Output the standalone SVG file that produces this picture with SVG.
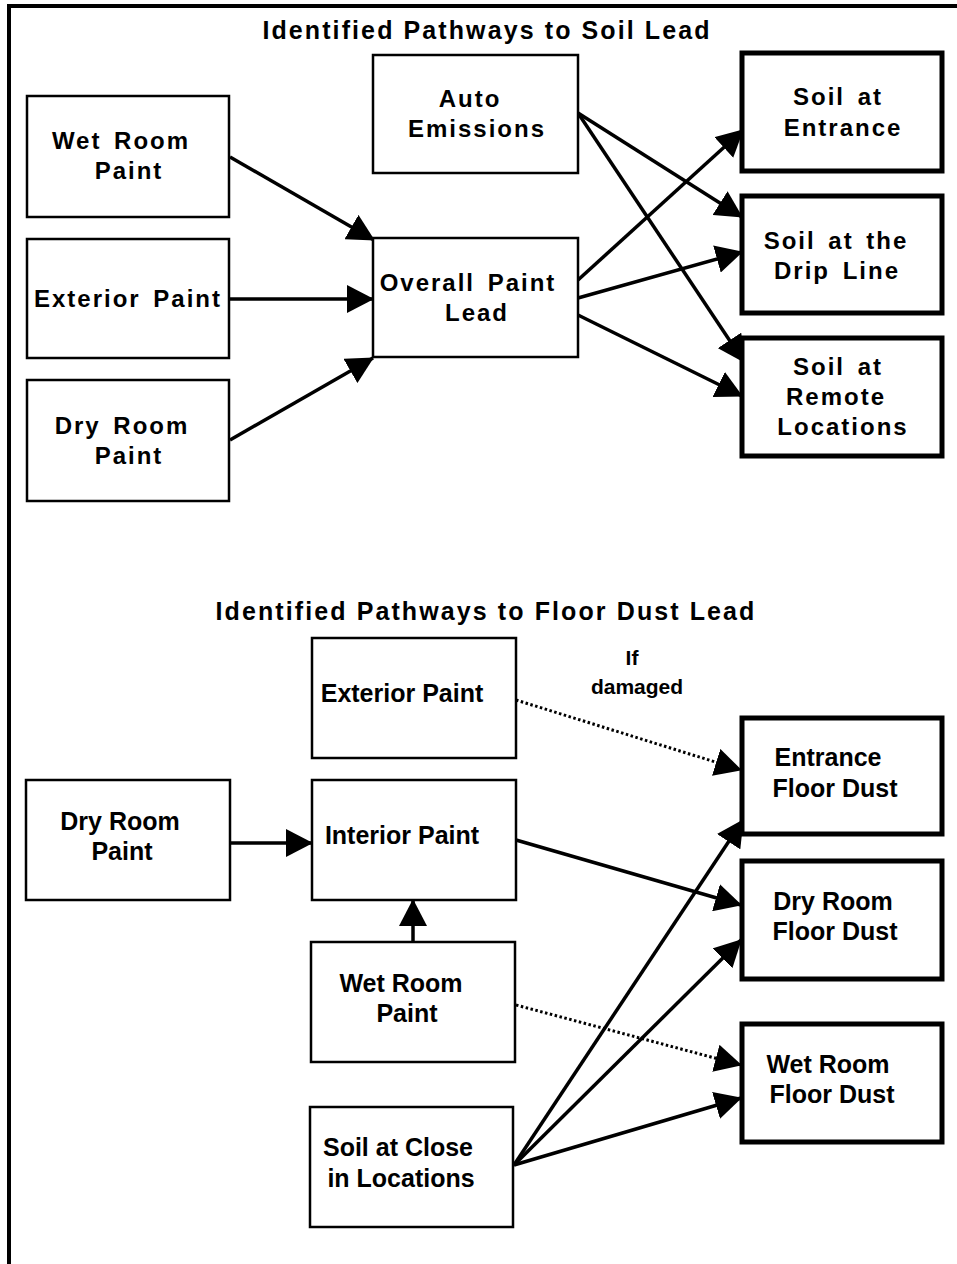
<svg xmlns="http://www.w3.org/2000/svg" width="957" height="1264" viewBox="0 0 957 1264">
<style>
.bg{fill:#fff}
.box{fill:#fff;stroke:#000;stroke-width:2.5}
.tbox{fill:#fff;stroke:#000;stroke-width:5}
.frame{stroke:#000;stroke-width:4;fill:none}
.ttl{font-family:"Liberation Sans",Arial,sans-serif;font-weight:bold;font-size:25px;letter-spacing:2.1px;fill:#000;text-anchor:middle}
.a{font-family:"Liberation Sans",Arial,sans-serif;font-weight:bold;font-size:24px;letter-spacing:2px;word-spacing:4px;fill:#000;text-anchor:middle}
.b{font-family:"Liberation Sans",Arial,sans-serif;font-weight:bold;font-size:25px;letter-spacing:0px;fill:#000;text-anchor:middle}
.lbl{font-family:"Liberation Sans",Arial,sans-serif;font-weight:bold;font-size:21px;fill:#000;text-anchor:middle}
.ln{stroke:#000;stroke-width:3.5;fill:none;marker-end:url(#ah)}
.dt{stroke:#000;stroke-width:3;fill:none;stroke-dasharray:2.5 2.5;marker-end:url(#ah)}
</style>
<defs>
<marker id="ah" markerUnits="userSpaceOnUse" viewBox="0 0 27 28" refX="26" refY="14" markerWidth="27" markerHeight="28" orient="auto">
<path d="M0,0 L27,14 L0,28 z" fill="#000"/>
</marker>
</defs>
<rect class="bg" x="0" y="0" width="957" height="1264"/>
<g id="frame">
<line class="frame" x1="7" y1="6" x2="957" y2="6"/>
<line class="frame" x1="9" y1="4" x2="9" y2="1264"/>
</g>
<g id="titles">
<text class="ttl" x="487" y="39">Identified Pathways to Soil Lead</text>
<text class="ttl" x="486" y="620">Identified Pathways to Floor Dust Lead</text>
</g>
<g id="connectors">
<path class="ln" d="M230,157 L374,240"/>
<path class="ln" d="M230,299 L373,299"/>
<path class="ln" d="M230,440 L373,358"/>
<path class="ln" d="M578,113 L742,217"/>
<path class="ln" d="M578,113 L744,362"/>
<path class="ln" d="M578,280 L743,130"/>
<path class="ln" d="M578,298 L742,252"/>
<path class="ln" d="M578,315 L742,396"/>
<path class="dt" d="M516,700 L741,770"/>
<path class="ln" d="M230,843 L312,843"/>
<path class="ln" d="M516,840 L741,905"/>
<path class="ln" d="M413,942 L413,900"/>
<path class="dt" d="M516,1005 L741,1065"/>
<path class="ln" d="M514,1165 L743,820"/>
<path class="ln" d="M514,1165 L741,940"/>
<path class="ln" d="M514,1165 L741,1098"/>
</g>
<g id="n-wetroompaint-top">
<rect class="box" x="27" y="96" width="202" height="121"/>
<text class="a" x="121" y="149">Wet Room</text>
<text class="a" x="129" y="179">Paint</text>
</g>
<g id="n-exteriorpaint-top">
<rect class="box" x="27" y="239" width="202" height="119"/>
<text class="a" x="128" y="307">Exterior Paint</text>
</g>
<g id="n-dryroompaint-top">
<rect class="box" x="27" y="380" width="202" height="121"/>
<text class="a" x="122" y="434">Dry Room</text>
<text class="a" x="129" y="464">Paint</text>
</g>
<g id="n-autoemissions">
<rect class="box" x="373" y="55" width="205" height="118"/>
<text class="a" x="470" y="107">Auto</text>
<text class="a" x="477" y="137">Emissions</text>
</g>
<g id="n-overallpaintlead">
<rect class="box" x="373" y="238" width="205" height="119"/>
<text class="a" x="468" y="291">Overall Paint</text>
<text class="a" x="477" y="321">Lead</text>
</g>
<g id="n-soilentrance">
<rect class="tbox" x="742" y="53" width="200" height="118"/>
<text class="a" x="838" y="105">Soil at</text>
<text class="a" x="843" y="136">Entrance</text>
</g>
<g id="n-soildripline">
<rect class="tbox" x="742" y="196" width="200" height="117"/>
<text class="a" x="836" y="249">Soil at the</text>
<text class="a" x="837" y="279">Drip Line</text>
</g>
<g id="n-soilremote">
<rect class="tbox" x="742" y="338" width="200" height="118"/>
<text class="a" x="838" y="375">Soil at</text>
<text class="a" x="836" y="405">Remote</text>
<text class="a" x="843" y="435">Locations</text>
</g>
<g id="n-exteriorpaint-bottom">
<rect class="box" x="312" y="638" width="204" height="120"/>
<text class="b" x="402" y="702">Exterior Paint</text>
</g>
<g id="n-ifdamaged">
<text class="lbl" x="632" y="665">If</text>
<text class="lbl" x="637" y="694">damaged</text>
</g>
<g id="n-dryroompaint-bottom">
<rect class="box" x="26" y="780" width="204" height="120"/>
<text class="b" x="120" y="830">Dry Room</text>
<text class="b" x="122" y="860">Paint</text>
</g>
<g id="n-interiorpaint">
<rect class="box" x="312" y="780" width="204" height="120"/>
<text class="b" x="402" y="844">Interior Paint</text>
</g>
<g id="n-wetroompaint-bottom">
<rect class="box" x="311" y="942" width="204" height="120"/>
<text class="b" x="401" y="992">Wet Room</text>
<text class="b" x="407" y="1022">Paint</text>
</g>
<g id="n-soilclose">
<rect class="box" x="310" y="1107" width="203" height="120"/>
<text class="b" x="398" y="1156">Soil at Close</text>
<text class="b" x="401" y="1187">in Locations</text>
</g>
<g id="n-entrancefloordust">
<rect class="tbox" x="742" y="718" width="200" height="116"/>
<text class="b" x="828" y="766">Entrance</text>
<text class="b" x="835" y="797">Floor Dust</text>
</g>
<g id="n-dryroomfloordust">
<rect class="tbox" x="742" y="861" width="200" height="118"/>
<text class="b" x="833" y="910">Dry Room</text>
<text class="b" x="835" y="940">Floor Dust</text>
</g>
<g id="n-wetroomfloordust">
<rect class="tbox" x="742" y="1024" width="200" height="118"/>
<text class="b" x="828" y="1073">Wet Room</text>
<text class="b" x="832" y="1103">Floor Dust</text>
</g>
</svg>
